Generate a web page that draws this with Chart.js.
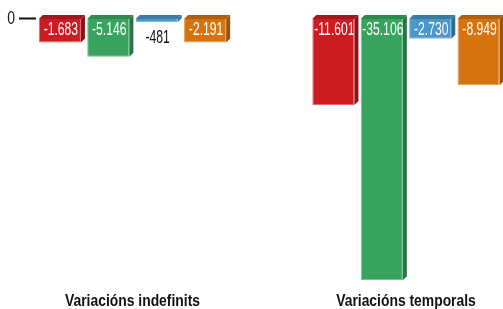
<!DOCTYPE html>
<html>
<head>
<meta charset="utf-8"/>
<title>Variacions</title>
<script src="https://cdn.jsdelivr.net/npm/chart.js@4.4.1/dist/chart.umd.min.js"></script>
<style>
  html, body { margin: 0; padding: 0; background: #fff; }
  #wrap { position: relative; width: 503px; height: 309px; }
</style>
</head>
<body>
<div id="wrap"><canvas id="chart"></canvas></div>
<script>
// data
const categories = ['Variacións indefinits', 'Variacións temporals'];
const seriesNames = ['Sèrie 1', 'Sèrie 2', 'Sèrie 3', 'Sèrie 4'];
const seriesRed = [-1683, -11601];
const seriesGreen = [-5146, -35106];
const seriesBlue = [-481, -2730];
const seriesOrange = [-2191, -8949];
const yTicks = [0];

// front / top / side colours per series
const palette = [
  { front: '#cd1b22', edge: '#e0686d', top: '#a5161c', side: '#8a1318' },
  { front: '#38a35e', edge: '#6cc08a', top: '#2d8a4e', side: '#287544' },
  { front: '#4a97c8', edge: '#7db5da', top: '#3b7ba6', side: '#336b90' },
  { front: '#d5740f', edge: '#e89d52', top: '#b0600c', side: '#9a540b' }
];

const family = 'Liberation Sans';
const xFontSize = 16.5;
const mctx = document.createElement('canvas').getContext('2d');
mctx.font = 'bold ' + xFontSize + 'px "' + family + '"';
const xSquash = 135 / mctx.measureText(categories[0]).width;

function fmt(v) {
  const s = String(Math.abs(v)).replace(/\B(?=(\d{3})+(?!\d))/g, '.');
  return (v < 0 ? '-' : '') + s;
}

// the original uses a condensed face: squeeze axis labels sideways
function squashLabels(scale, k) {
  if (scale._squashed) return;
  scale._squashed = true;
  scale.drawLabels = function (area) {
    const ctx = this.ctx;
    this.getLabelItems(area).forEach(it => {
      ctx.save();
      ctx.translate(it.options.translation[0], it.options.translation[1]);
      ctx.scale(k, 1);
      ctx.font = it.font.string;
      ctx.fillStyle = it.options.color;
      ctx.textAlign = it.options.textAlign;
      ctx.textBaseline = it.options.textBaseline;
      ctx.fillText(it.label, 0, it.textOffset);
      ctx.restore();
    });
  };
}

const depth = 4;
const bar3d = {
  id: 'bar3d',
  beforeDraw(chart) {
    squashLabels(chart.scales.x, xSquash);
    squashLabels(chart.scales.y, 0.73);
  },
  afterDatasetsDraw(chart) {
    const ctx = chart.ctx;
    chart.data.datasets.forEach((ds, i) => {
      const col = palette[i];
      chart.getDatasetMeta(i).data.forEach((bar, j) => {
        const p = bar.getProps(['x', 'y', 'base', 'width'], true);
        const l = p.x - p.width / 2, r = p.x + p.width / 2;
        const top = Math.min(p.y, p.base), bot = Math.max(p.y, p.base);
        ctx.save();
        ctx.fillStyle = col.top;
        ctx.beginPath();
        ctx.moveTo(l, top); ctx.lineTo(l + depth, top - depth);
        ctx.lineTo(r + depth, top - depth); ctx.lineTo(r, top);
        ctx.closePath(); ctx.fill();
        ctx.fillStyle = col.side;
        ctx.beginPath();
        ctx.moveTo(r, top); ctx.lineTo(r + depth, top - depth);
        ctx.lineTo(r + depth, bot - depth); ctx.lineTo(r, bot);
        ctx.closePath(); ctx.fill();

        // value label
        const v = ds.data[j].y;
        const inside = bot - top >= 18;
        ctx.font = '19px "Liberation Sans"';
        ctx.textAlign = 'center';
        ctx.textBaseline = 'alphabetic';
        ctx.fillStyle = inside ? '#ffffff' : '#111111';
        ctx.translate(p.x + 1, inside ? top + 16 : bot + 20.5);
        ctx.scale(0.64, 1);
        ctx.fillText(fmt(v), 0, 0);
        ctx.restore();
      });
    });
  }
};

const allSeries = [seriesRed, seriesGreen, seriesBlue, seriesOrange];
const datasets = allSeries.map((s, i) => ({
  label: seriesNames[i],
  data: s.map((v, k) => ({ x: k, y: v })),
  backgroundColor: palette[i].front,
  borderColor: palette[i].edge,
  borderWidth: 1,
  minBarLength: (i === 0 || i === 3) ? 24 : 0,
  categoryPercentage: 0.708,
  barPercentage: 0.87
}));

new Chart(document.getElementById('chart'), {
  type: 'bar',
  data: { datasets: datasets },
  options: {
    responsive: true,
    maintainAspectRatio: false,
    animation: false,
    layout: { padding: { top: 18.5, right: 0, bottom: 0, left: 0 } },
    plugins: { legend: { display: false }, tooltip: { enabled: false } },
    scales: {
      x: {
        type: 'linear',
        offset: false,
        bounds: 'data',
        min: -0.3528,
        max: 1.3547,
        grid: { display: false, drawTicks: false },
        border: { display: false },
        afterBuildTicks: s => { s.ticks = categories.map((c, k) => ({ value: k })); },
        afterFit: s => { s.height = 22.2; },
        ticks: {
          padding: 5,
          color: '#111',
          maxRotation: 0,
          autoSkip: false,
          font: { family: family, size: xFontSize, weight: 'bold' },
          callback: v => categories[v]
        }
      },
      y: {
        min: -36000,
        max: 0,
        border: { display: false },
        grid: { drawOnChartArea: false, tickLength: 17, tickWidth: 2, tickColor: '#111' },
        afterBuildTicks: s => { s.ticks = yTicks.map(v => ({ value: v })); },
        afterFit: s => { s.width = 36; },
        ticks: {
          padding: 4,
          color: '#111',
          font: { family: family, size: 19 }
        }
      }
    }
  },
  plugins: [bar3d]
});
</script>
</body>
</html>
